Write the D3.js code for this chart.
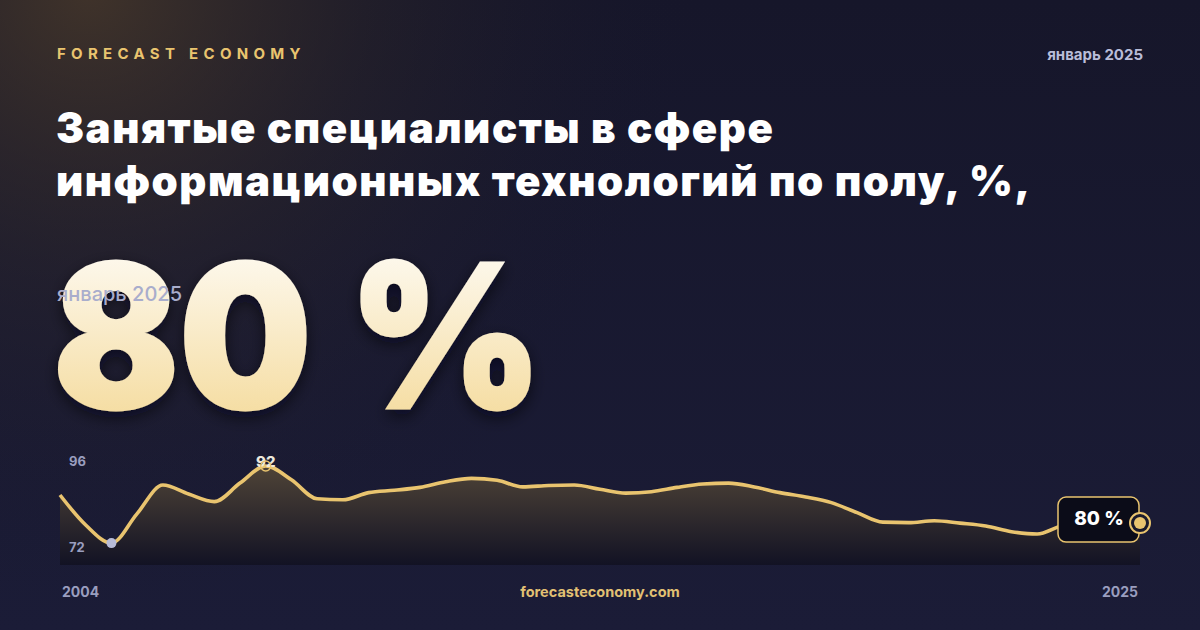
<!DOCTYPE html>
<html>
<head>
<meta charset="utf-8">
<script src="https://cdn.jsdelivr.net/npm/d3@7"></script>
<style>
  html, body { margin: 0; padding: 0; background: #15162a; }
  svg { display: block; }
</style>
</head>
<body>
<div id="chart"></div>
<script>
// данные: полугодия 2004–2025, доля, %
const periods = [2004, 2004.5, 2005, 2005.5, 2006, 2006.5, 2007, 2007.5, 2008, 2008.5,
  2009, 2009.5, 2010, 2010.5, 2011, 2011.5, 2012, 2012.5, 2013, 2013.5,
  2014, 2014.5, 2015, 2015.5, 2016, 2016.5, 2017, 2017.5, 2018, 2018.5,
  2019, 2019.5, 2020, 2020.5, 2021, 2021.5, 2022, 2022.5, 2023, 2023.5,
  2024, 2024.5, 2025];
const values = [85.9, 79.6, 75.8, 82.0, 88.0, 86.1, 84.5, 88.4, 92.0, 89.1,
  85.1, 84.9, 86.4, 86.9, 87.5, 88.7, 89.4, 89.0, 87.6, 87.9,
  88.0, 87.1, 86.3, 86.6, 87.5, 88.2, 88.4, 87.6, 86.4, 85.5,
  84.3, 82.2, 80.2, 80.1, 80.5, 80.0, 79.4, 78.2, 77.7, 79.5,
  80.0, 80.0, 80.0];
const yTickLabels = ["96", "72"];
const xTickLabels = ["2004", "2025"];
const brand = "FORECAST ECONOMY";
const dateLabel = "январь 2025";
const titleLines = ["Занятые специалисты в сфере", "информационных технологий по полу, %,"];
const site = "forecasteconomy.com";

const W = 1200, H = 630;
const gold = "#e9c46f";
const font = "Inter, 'DejaVu Sans', sans-serif";
const data = periods.map((p, i) => ({ p, v: values[i] }));

const svg = d3.select("#chart").append("svg")
  .attr("width", W).attr("height", H);

const defs = svg.append("defs");

// фон
const bg = defs.append("linearGradient").attr("id", "bg")
  .attr("x1", 0).attr("y1", 0).attr("x2", 0).attr("y2", 1);
bg.append("stop").attr("offset", "0%").attr("stop-color", "#16162a");
bg.append("stop").attr("offset", "100%").attr("stop-color", "#1b1c37");

const glow = defs.append("radialGradient").attr("id", "glow")
  .attr("gradientUnits", "userSpaceOnUse")
  .attr("cx", 90).attr("cy", -10).attr("r", 620);
glow.append("stop").attr("offset", "0%").attr("stop-color", "#4a3a2a").attr("stop-opacity", 0.8);
glow.append("stop").attr("offset", "45%").attr("stop-color", "#3a3028").attr("stop-opacity", 0.3);
glow.append("stop").attr("offset", "100%").attr("stop-color", "#16162a").attr("stop-opacity", 0);

const numGrad = defs.append("linearGradient").attr("id", "numGrad")
  .attr("x1", 0).attr("y1", 0).attr("x2", 0).attr("y2", 1);
numGrad.append("stop").attr("offset", "0%").attr("stop-color", "#ffffff");
numGrad.append("stop").attr("offset", "100%").attr("stop-color", "#f3d68f");

const areaGrad = defs.append("linearGradient").attr("id", "areaGrad")
  .attr("x1", 0).attr("y1", 0).attr("x2", 0).attr("y2", 1);
areaGrad.append("stop").attr("offset", "0%").attr("stop-color", "#4f4437");
areaGrad.append("stop").attr("offset", "100%").attr("stop-color", "#121224");

const shadow = defs.append("filter").attr("id", "shadow")
  .attr("x", "-10%").attr("y", "-10%").attr("width", "130%").attr("height", "130%");
shadow.append("feDropShadow").attr("dx", 0).attr("dy", 6).attr("stdDeviation", 8)
  .attr("flood-color", "#05050c").attr("flood-opacity", 0.6);

svg.append("rect").attr("width", W).attr("height", H).attr("fill", "url(#bg)");
svg.append("rect").attr("width", W).attr("height", H).attr("fill", "url(#glow)");

// шапка
svg.append("text")
  .attr("x", 57).attr("y", 59)
  .attr("font-family", font)
  .attr("font-size", 15).attr("font-weight", 700)
  .attr("letter-spacing", 5.3)
  .attr("fill", gold)
  .text(brand);

svg.append("text")
  .attr("x", 1143).attr("y", 60)
  .attr("text-anchor", "end")
  .attr("font-family", font)
  .attr("font-size", 15).attr("font-weight", 700)
  .attr("fill", "#b9bdd9")
  .text(dateLabel);

svg.append("g").selectAll("text")
  .data(titleLines)
  .enter().append("text")
  .attr("x", 56)
  .attr("y", (d, i) => 143 + i * 53)
  .attr("font-family", font)
  .attr("font-size", 42).attr("font-weight", 900)
  .attr("letter-spacing", 1.5)
  .attr("fill", "#ffffff")
  .text(d => d);

// большое число
const last = data[data.length - 1];
svg.append("text")
  .attr("transform", "translate(53,408) scale(0.93,1)")
  .attr("font-family", font)
  .attr("font-size", 200).attr("font-weight", 900)
  .attr("fill", "url(#numGrad)")
  .attr("stroke", "url(#numGrad)").attr("stroke-width", 3)
  .attr("filter", "url(#shadow)")
  .text(Math.round(last.v) + " %");

svg.append("text")
  .attr("x", 57).attr("y", 301)
  .attr("font-family", font)
  .attr("font-size", 20).attr("font-weight", 500)
  .attr("fill", "#a9adcc")
  .text(dateLabel);

// график
const x = d3.scaleLinear()
  .domain(d3.extent(periods))
  .range([60, 1140]);
const y = d3.scaleLinear()
  .domain([71.2, 94.3])
  .range([565, 455]);

const area = d3.area()
  .x(d => x(d.p)).y0(565).y1(d => y(d.v))
  .curve(d3.curveMonotoneX);
const line = d3.line()
  .x(d => x(d.p)).y(d => y(d.v))
  .curve(d3.curveMonotoneX);

svg.append("path").datum(data)
  .attr("d", area)
  .attr("fill", "url(#areaGrad)");

svg.append("path").datum(data)
  .attr("d", line)
  .attr("fill", "none")
  .attr("stroke", gold)
  .attr("stroke-width", 3.6)
  .attr("stroke-linejoin", "round");

// подписи шкалы
svg.append("g").selectAll("text")
  .data(yTickLabels)
  .enter().append("text")
  .attr("x", 69)
  .attr("y", (d, i) => i === 0 ? y.range()[1] + 11 : y.range()[0] - 13)
  .attr("font-family", font)
  .attr("font-size", 13).attr("font-weight", 700)
  .attr("fill", "#9a9ebf")
  .text(d => d);

// минимум и максимум
const minD = data.reduce((a, b) => b.v < a.v ? b : a);
const maxD = data.reduce((a, b) => b.v > a.v ? b : a);

svg.append("circle")
  .attr("cx", x(minD.p)).attr("cy", y(minD.v)).attr("r", 5)
  .attr("fill", "#b8bcd8");

svg.append("text")
  .attr("x", x(maxD.p)).attr("y", y(maxD.v) + 1)
  .attr("text-anchor", "middle")
  .attr("font-family", font)
  .attr("font-size", 15).attr("font-weight", 800)
  .attr("fill", "#ece8dc")
  .text(Math.round(maxD.v));

svg.append("circle")
  .attr("cx", x(maxD.p)).attr("cy", y(maxD.v)).attr("r", 5)
  .attr("fill", "none")
  .attr("stroke", gold).attr("stroke-width", 1.5);

// последнее значение
const lx = x(last.p), ly = y(last.v);
svg.append("rect")
  .attr("x", lx - 82).attr("y", ly - 26)
  .attr("width", 81).attr("height", 45)
  .attr("rx", 8)
  .attr("fill", "#0b0c18")
  .attr("stroke", gold).attr("stroke-width", 1.5);

svg.append("text")
  .attr("x", lx - 41).attr("y", ly + 2)
  .attr("text-anchor", "middle")
  .attr("font-family", font)
  .attr("font-size", 19).attr("font-weight", 800)
  .attr("fill", "#ffffff")
  .text(Math.round(last.v) + " %");

svg.append("circle")
  .attr("cx", lx).attr("cy", ly).attr("r", 10)
  .attr("fill", "#1a1a2c")
  .attr("stroke", gold).attr("stroke-width", 2);
svg.append("circle")
  .attr("cx", lx).attr("cy", ly).attr("r", 6)
  .attr("fill", gold);

// подвал
svg.append("g").selectAll("text")
  .data(xTickLabels)
  .enter().append("text")
  .attr("x", (d, i) => i === 0 ? x.range()[0] + 2 : x.range()[1] - 2)
  .attr("y", 597)
  .attr("text-anchor", (d, i) => i === 0 ? "start" : "end")
  .attr("font-family", font)
  .attr("font-size", 14).attr("font-weight", 700)
  .attr("fill", "#9a9ebf")
  .text(d => d);

svg.append("text")
  .attr("x", 600).attr("y", 597)
  .attr("text-anchor", "middle")
  .attr("font-family", font)
  .attr("font-size", 14.5).attr("font-weight", 700)
  .attr("fill", "#e2c173")
  .text(site);
</script>
</body>
</html>
